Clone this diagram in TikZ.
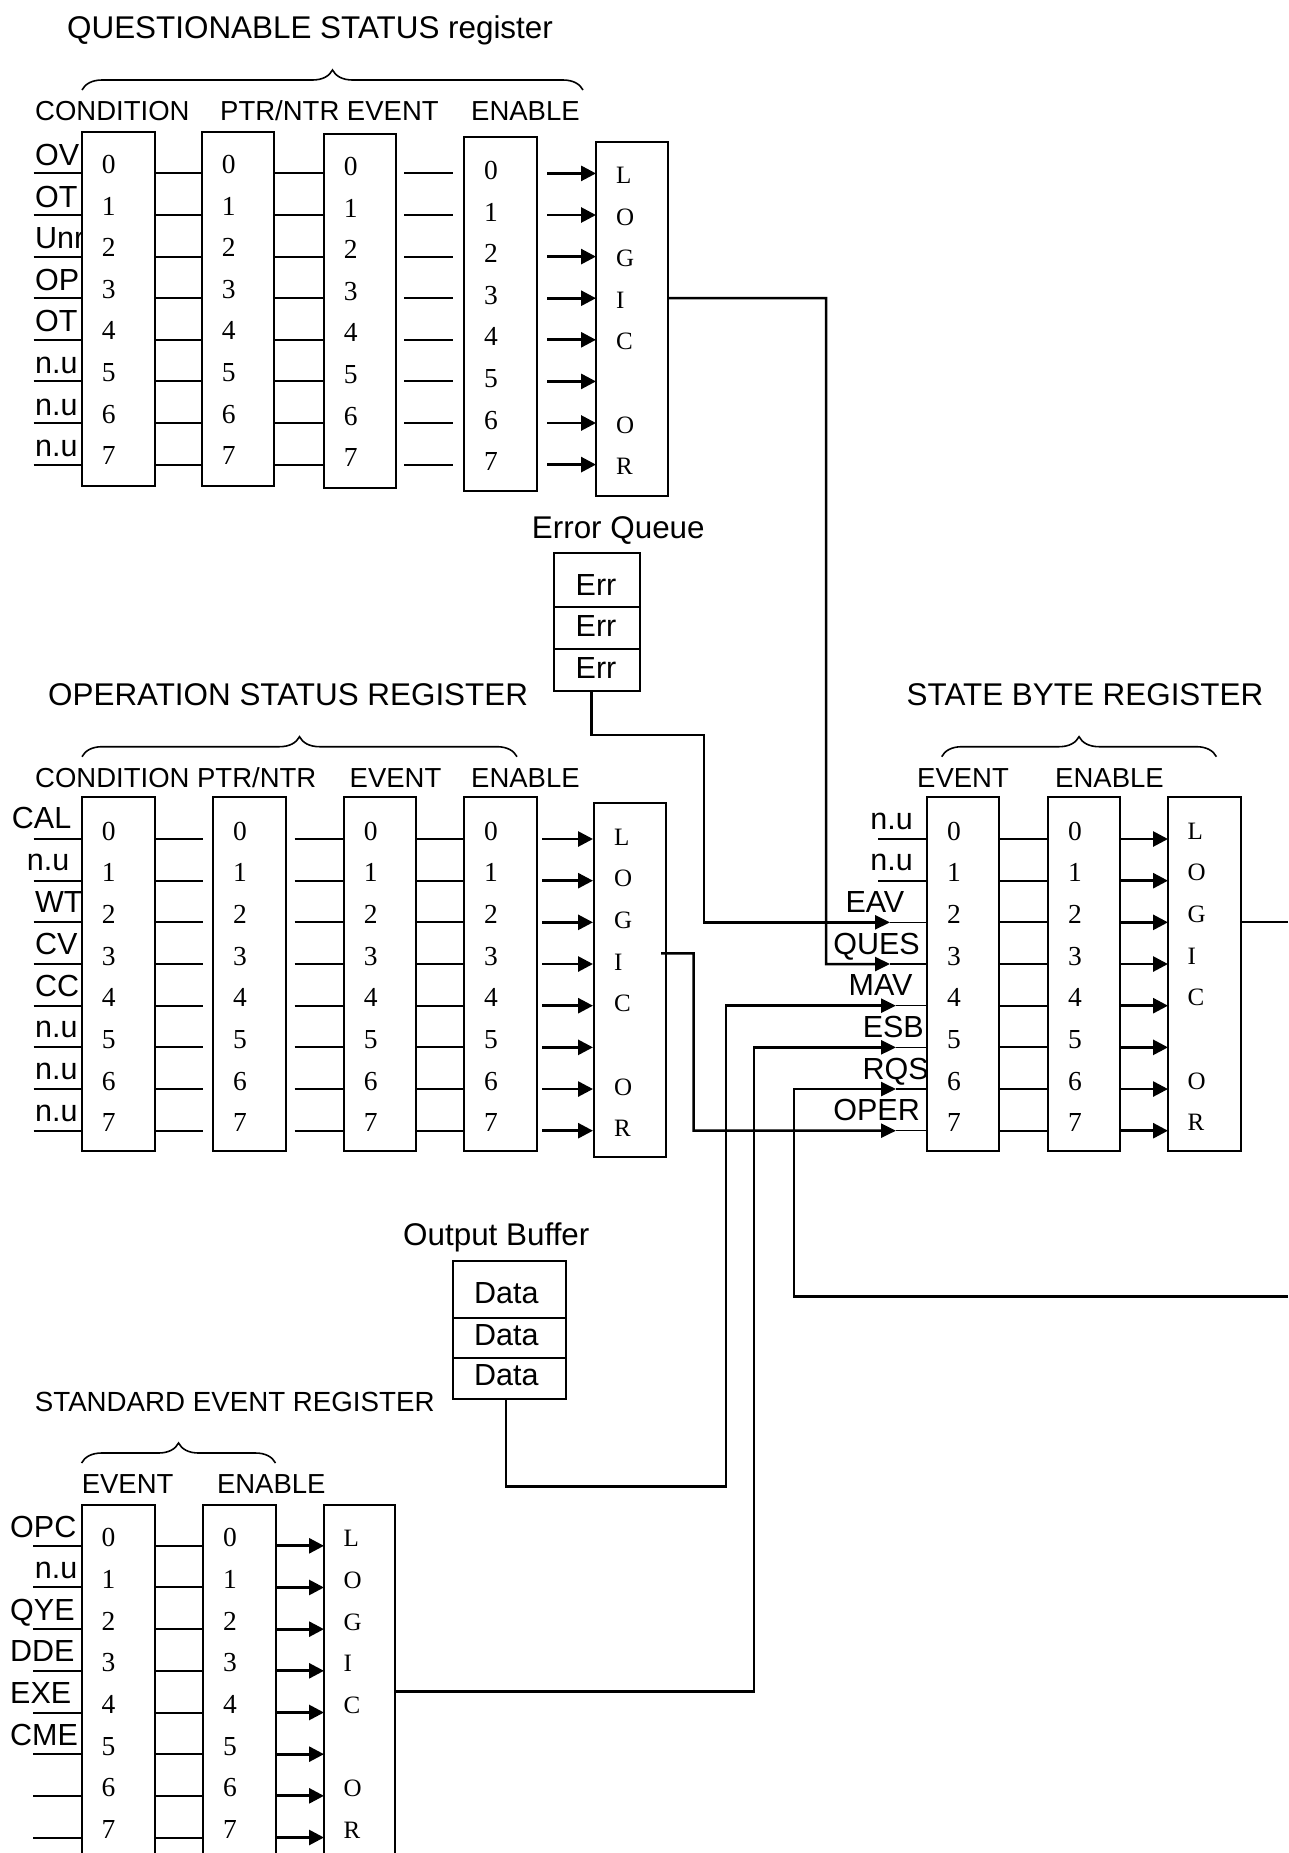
\documentclass[tikz,border=0pt]{standalone}
\usepackage{fontspec}
\setmainfont{Liberation Sans}
\newfontfamily\serifnum{Liberation Serif}
\usetikzlibrary{arrows.meta,calc,decorations.pathreplacing}
\begin{document}
\begin{tikzpicture}[x=1pt,y=-1pt,
  title/.style={font=\fontsize{31.4}{31.4}\selectfont, inner sep=0pt, anchor=base west},
  hdr/.style={font=\fontsize{27.5}{27.5}\selectfont, inner sep=0pt, anchor=base west},
  lab/.style={font=\fontsize{30.5}{30.5}\selectfont, inner sep=0pt},
  dig/.style={font=\serifnum\fontsize{27.5}{27.5}\selectfont, inner sep=0pt, anchor=base},
  logl/.style={font=\serifnum\fontsize{25}{25}\selectfont, inner sep=0pt, anchor=base west},
  celltxt/.style={font=\fontsize{30.5}{30.5}\selectfont, inner sep=0pt, anchor=base},
  regbox/.style={draw, fill=white, line width=2pt, inner sep=0pt, outer sep=0pt, anchor=north west},
  wire/.style={line width=2pt},
  thinwire/.style={line width=1.5pt},
  arr/.style={line width=2.8pt, -{Triangle[length=15pt,width=15pt]}},
  conn/.style={line width=2.5pt, -{Triangle[length=15pt,width=14pt]}},
  brc/.style={line width=1.6pt, decorate, decoration={brace, amplitude=20pt}}
]
\fill[white] (0,0) rectangle (1288,1853);
\useasboundingbox (0,0) rectangle (1288,1853);

% row coordinates
\foreach \i in {0,...,7}{
  \coordinate (Q\i) at (0,{173.4+41.6*\i});
  \coordinate (O\i) at (0,{839+41.67*\i});
  \coordinate (E\i) at (0,{1545.8+41.67*\i});
}

% titles
\node[title] (qtitle) at (67,38.3) {QUESTIONABLE STATUS register};
\node[title] (otitle) at (48,705) {OPERATION STATUS REGISTER};
\node[title] (stitle) at (906.5,705) {STATE BYTE REGISTER};
\node[title, font=\fontsize{27.7}{27.7}\selectfont] (etitle) at (34.7,1411.7) {STANDARD EVENT REGISTER};
\node[title] (eqtitle) at (531.7,538.3) {Error Queue};
\node[title] (obtitle) at (403,1245.8) {Output Buffer};

% headers
\node[hdr] (qh1) at (35,120.7) {CONDITION};
\node[hdr] (qh2) at (220,120.7) {PTR/NTR EVENT};
\node[hdr] (qh3) at (471,120.7) {ENABLE};
\node[hdr] (oh1) at (35,787.7) {CONDITION PTR/NTR};
\node[hdr] (oh2) at (349.5,787.7) {EVENT};
\node[hdr] (oh3) at (471,787.7) {ENABLE};
\node[hdr] (sh1) at (917,787.7) {EVENT};
\node[hdr] (sh2) at (1055,787.7) {ENABLE};
\node[hdr] (eh1) at (81.6,1493.75) {EVENT};
\node[hdr] (eh2) at (216.8,1493.75) {ENABLE};

% braces
\draw[brc] (82,90) -- (583,90);
\draw[brc] (82,756.7) -- (517,756.7);
\draw[brc] (941.7,756.7) -- (1216.4,756.7);
\draw[brc] (81.6,1463) -- (275.5,1463);

% input labels
\foreach \t [count=\i from 0] in {OV,OT,Unr,OP,OT,n.u,n.u,n.u}
  \node[lab, anchor=base west] at ($(Q\i)+(35,-8)$) {\t};
\node[lab, anchor=base east] at ($(O0)+(71.5,-11)$) {CAL};
\node[lab, anchor=base east] at ($(O1)+(69.5,-10)$) {n.u};
\foreach \t [count=\i from 2] in {WT,CV,CC,n.u,n.u,n.u}
  \node[lab, anchor=base west] at ($(O\i)+(35,-9.5)$) {\t};
\foreach \xx/\t [count=\i from 0] in {913/n.u,913/n.u,904.5/EAV,920/QUES,912.7/MAV,924/ESB,929/RQS,920/OPER}
  \node[lab, anchor=base east] at ($(O\i)+(\xx,-10)$) {\t};
\node[lab, anchor=base west] at ($(E0)+(10,-8.3)$) {OPC};
\node[lab, anchor=base west] at ($(E1)+(34.7,-9)$) {n.u};
\foreach \t [count=\i from 2] in {QYE,DDE,EXE,CME}
  \node[lab, anchor=base west] at ($(E\i)+(10,-9)$) {\t};

% boxes
\node[regbox, minimum width=73.3pt, minimum height=354.3pt] (q1) at (81.7,131.7) {};
\node[regbox, minimum width=71.9pt, minimum height=353.7pt] (q2) at (201.8,132.3) {};
\node[regbox, minimum width=72.3pt, minimum height=354pt] (q3) at (323.7,134) {};
\node[regbox, minimum width=72.6pt, minimum height=354pt] (q4) at (464,137.3) {};
\node[regbox, minimum width=72pt, minimum height=353.7pt] (qL) at (596,142) {};

\node[regbox, minimum width=73.3pt, minimum height=354.3pt] (o1) at (81.7,796.7) {};
\node[regbox, minimum width=72.7pt, minimum height=354.3pt] (o2) at (213,796.7) {};
\node[regbox, minimum width=72.25pt, minimum height=354.3pt] (o3) at (343.75,796.7) {};
\node[regbox, minimum width=72.6pt, minimum height=354.3pt] (o4) at (464,796.7) {};
\node[regbox, minimum width=72pt, minimum height=353.7pt] (oL) at (594,803) {};

\node[regbox, minimum width=71.7pt, minimum height=354pt] (s1) at (927,797) {};
\node[regbox, minimum width=72pt, minimum height=354pt] (s2) at (1048,797) {};
\node[regbox, minimum width=72.5pt, minimum height=354pt] (sL) at (1168,797) {};

\node[regbox, minimum width=73pt, minimum height=400pt] (e1) at (81.6,1505) {};
\node[regbox, minimum width=72.5pt, minimum height=400pt] (e2) at (203,1505) {};
\node[regbox, minimum width=71.4pt, minimum height=400pt] (eL) at (324,1505) {};

% error queue and output buffer
\node[regbox, minimum width=86pt, minimum height=54.3pt] (err1) at (554,552.7) {};
\node[regbox, minimum width=86pt, minimum height=42.3pt] (err2) at (554,607) {};
\node[regbox, minimum width=86pt, minimum height=41.7pt] (err3) at (554,649.3) {};
\node[celltxt] at (596,595) {Err};
\node[celltxt] at (596,636.7) {Err};
\node[celltxt] at (596,678.3) {Err};

\node[regbox, minimum width=113.7pt, minimum height=56.5pt] (d1) at (452.6,1261) {};
\node[regbox, minimum width=113.7pt, minimum height=40pt] (d2) at (452.6,1317.5) {};
\node[regbox, minimum width=113.7pt, minimum height=41.5pt] (d3) at (452.6,1357.5) {};
\node[celltxt] at (506.4,1303) {Data};
\node[celltxt] at (506.4,1345) {Data};
\node[celltxt] at (506.4,1385) {Data};

% digits
\foreach \b/\off in {q1/0,q2/0,q3/2,q4/6}
  \foreach \i in {0,...,7}
    \node[dig] at ($(\b.west |- Q\i)+(27,\off)$) {\i};
\foreach \b in {o1,o2,o3,o4,s1,s2}
  \foreach \i in {0,...,7}
    \node[dig] at ($(\b.west |- O\i)+(27,1)$) {\i};
\foreach \b in {e1,e2}
  \foreach \i in {0,...,7}
    \node[dig] at ($(\b.west |- E\i)+(27,1)$) {\i};

% logic letters
\foreach \t/\i in {L/0,O/1,G/2,I/3,C/4,O/6,R/7}{
  \node[logl] at ($(qL.west |- Q\i)+(20,10)$) {\t};
  \node[logl] at ($(oL.west |- O\i)+(20,6)$) {\t};
  \node[logl] at ($(sL.west |- O\i)+(19.5,0)$) {\t};
  \node[logl] at ($(eL.west |- E\i)+(19.5,1)$) {\t};
}

% row wiring
\foreach \i in {0,...,7}{
  % questionable
  \draw[wire] ($(q1.west |- Q\i)+(-48.2,0)$) -- (q1.west |- Q\i);
  \draw[wire] (q1.east |- Q\i) -- (q2.west |- Q\i);
  \draw[wire] (q2.east |- Q\i) -- (q3.west |- Q\i);
  \draw[wire] ($(q3.east |- Q\i)+(8,0)$) -- ($(q4.west |- Q\i)+(-11,0)$);
  \draw[arr] ($(q4.east |- Q\i)+(10.4,0)$) -- (qL.west |- Q\i);
  % operation
  \draw[wire] ($(o1.west |- O\i)+(-48.2,0)$) -- (o1.west |- O\i);
  \draw[wire] (o1.east |- O\i) -- ($(o2.west |- O\i)+(-10,0)$);
  \draw[wire] ($(o2.east |- O\i)+(9,0)$) -- (o3.west |- O\i);
  \draw[wire] (o3.east |- O\i) -- (o4.west |- O\i);
  \draw[arr] ($(o4.east |- O\i)+(5.4,0)$) -- ($(oL.west |- O\i)+(-1,0)$);
  % state byte
  \draw[wire] (s1.east |- O\i) -- (s2.west |- O\i);
  \draw[arr] (s2.east |- O\i) -- (sL.west |- O\i);
  % standard event
  \draw[wire] ($(e1.west |- E\i)+(-48.6,0)$) -- (e1.west |- E\i);
  \draw[wire] (e1.east |- E\i) -- (e2.west |- E\i);
  \draw[arr] (e2.east |- E\i) -- (eL.west |- E\i);
}
\foreach \i in {0,1}
  \draw[wire] ($(s1.west |- O\i)+(-49,0)$) -- (s1.west |- O\i);

% arrow tips into state byte event register
\coordinate (t2) at ($(s1.west |- O2)+(-37,0)$);
\coordinate (t3) at ($(s1.west |- O3)+(-37,0)$);
\foreach \i in {4,...,7}
  \coordinate (t\i) at ($(s1.west |- O\i)+(-31,0)$);
\foreach \i in {2,...,7}
  \draw[thinwire] (t\i) -- (s1.west |- O\i);

% connectors
\coordinate (qv) at (826,298.2);
\draw[conn] (qL.east |- Q3) -- (qv) |- (t3);

\coordinate (eqv) at (704,735);
\draw[conn] ($(err3.south)+(-5.3,0)$) |- (eqv) |- (t2);

\coordinate (ov) at (693.7,953.3);
\draw[conn] ($(oL.east)+(-5,-26.5)$) -- (ov) |- (t7);

\coordinate (mv) at (726,1486.7);
\draw[conn] ($(d3.south)+(-3.5,0)$) |- (mv) |- (t4);

\coordinate (ev) at (754,1691.7);
\draw[conn] (eL.east |- ev) -- (ev) |- (t5);

\coordinate (redge) at (1288,1296.7);
\coordinate (rv) at (794,1296.7);
\draw[conn] (redge) -- (rv) |- (t6);

\coordinate (sedge) at (1288,922.3);
\draw[wire] (sL.east |- O2) -- (sedge |- O2);
\end{tikzpicture}
\end{document}
